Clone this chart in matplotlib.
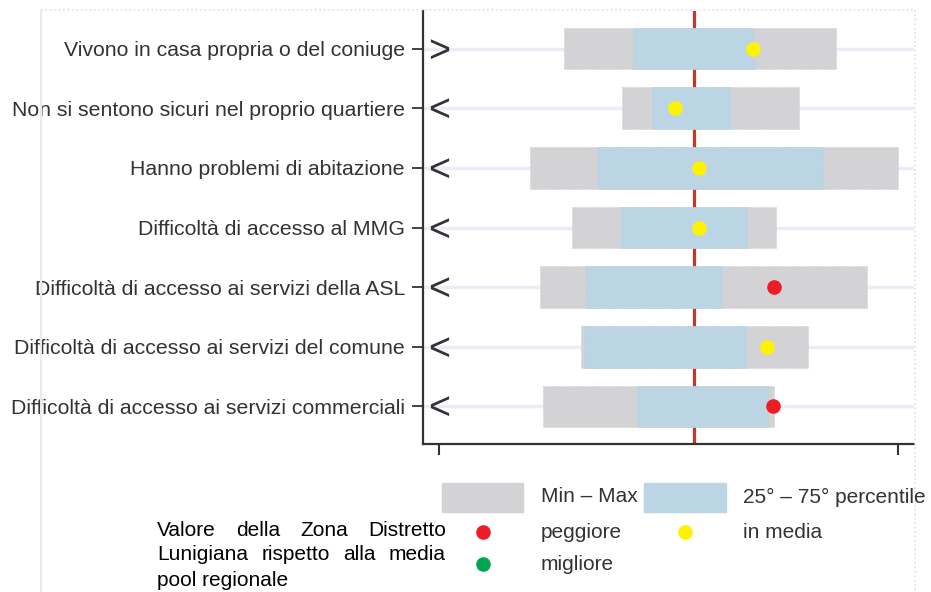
import matplotlib
matplotlib.use("Agg")
import matplotlib.pyplot as plt
from matplotlib.patches import Rectangle
from matplotlib.lines import Line2D
from matplotlib.transforms import offset_copy

# indicatori (dall'alto in basso)
labels = ["Vivono in casa propria o del coniuge",
          "Non si sentono sicuri nel proprio quartiere",
          "Hanno problemi di abitazione",
          "Difficoltà di accesso al MMG",
          "Difficoltà di accesso ai servizi della ASL",
          "Difficoltà di accesso ai servizi del comune",
          "Difficoltà di accesso ai servizi commerciali"]
signs = [">", "<", "<", "<", "<", "<", "<"]

# range regionale min - max
vmin = [27.2, 39.9, 19.8, 29.0, 22.0, 30.9, 22.7]
vmax = [86.5, 78.4, 100.0, 73.4, 93.2, 80.4, 73.0]
# 25 - 75 percentile
p25 = [42.3, 46.4, 34.6, 39.7, 32.0, 31.6, 43.1]
p75 = [68.6, 63.4, 83.7, 67.1, 61.7, 66.9, 71.7]
# valore della zona distretto e giudizio
zona = [68.4, 51.4, 56.6, 56.6, 73.0, 71.5, 72.8]
esito = ["media", "media", "media", "media", "peggiore", "media", "peggiore"]
media_regionale = 55.6

GRAY = "#d3d2d4"
BLUE = "#bcd5e4"
COL = {"peggiore": "#ee1c25", "media": "#fff200", "migliore": "#00a651"}
TXT = "#333333"

W, H = 931, 592
fig = plt.figure(figsize=(W / 100, H / 100), dpi=100)
plt.rcParams['font.family'] = ['Liberation Sans', 'DejaVu Sans']


def fx(x):
    return x / W


def fy(y):
    return 1 - y / H


# cornice esterna
fig.add_artist(Line2D([fx(41), fx(915)], [fy(10), fy(10)],
                      color="#d6e6dc", lw=1.2, ls=":"))
fig.add_artist(Line2D([fx(915), fx(915)], [fy(10), fy(600)],
                      color="#d6e6dc", lw=1.2, ls=":"))
fig.add_artist(Line2D([fx(41), fx(41)], [fy(10), fy(600)],
                      color="#e4eef2", lw=1.5))

ax = fig.add_axes([fx(423), 1 - 444 / H, (914 - 423) / W, (444 - 11) / H])
ax.set_facecolor("none")
sign_tr = offset_copy(ax.transData, fig=fig, x=0, y=-13, units="dots")

ys = list(range(len(labels)))
h = 0.70
for i in ys:
    ax.axhline(i, color="#ececf6", lw=2.5, zorder=0)
    ax.barh(i, vmax[i] - vmin[i], left=vmin[i], height=h, color=GRAY,
            edgecolor="#cbcbcd", lw=0.6, ls=":", zorder=2)
    ax.barh(i, p75[i] - p25[i], left=p25[i], height=h, color=BLUE,
            edgecolor="#aed0e2", lw=0.6, ls=":", zorder=3)
    ax.plot(zona[i], i, "o", ms=10.5, color=COL[esito[i]], mec="none", zorder=5)
    ax.text(0, i, signs[i], ha="center", va="baseline", fontsize=27,
            color=TXT, zorder=6, transform=sign_tr)

ax.axvline(media_regionale, color="#c0392b", lw=2.3, zorder=1)

ax.set_ylim(6.63, -0.63)
ax.set_xlim(-3.5, 103.5)
ax.set_yticks(ys)
ax.set_yticklabels(labels, fontsize=15.3, color=TXT)
ax.set_xticks([0, 100])
ax.set_xticklabels([])
ax.tick_params(axis="y", length=8, width=1.3, color=TXT, pad=5)
ax.tick_params(axis="x", length=8, width=1.5, color=TXT)
for s in ["top", "right"]:
    ax.spines[s].set_visible(False)
for s in ["left", "bottom"]:
    ax.spines[s].set_color(TXT)
    ax.spines[s].set_linewidth(1.6)

# legenda
fig.add_artist(Rectangle((fx(442), fy(512)), (523 - 442) / W, 29 / H,
                         color=GRAY, transform=fig.transFigure))
fig.add_artist(Rectangle((fx(644), fy(512)), (726 - 644) / W, 29 / H,
                         color=BLUE, transform=fig.transFigure))
fig.text(fx(541), fy(497), "Min – Max", fontsize=15, color=TXT, va="center")
fig.text(fx(743), fy(497), "25° – 75° percentile", fontsize=15, color=TXT,
         va="center")
for xd, yd, key, xt, name in [(483, 532, "peggiore", 541, "peggiore"),
                              (685, 532, "media", 743, "in media"),
                              (483, 564, "migliore", 541, "migliore")]:
    fig.add_artist(Line2D([fx(xd)], [fy(yd)], marker="o", ms=10.5,
                          color=COL[key], mec="none"))
    fig.text(fx(xt), fy(yd + 1), name, fontsize=15, color=TXT, va="center")

# testo giustificato a sinistra della legenda
renderer = fig.canvas.get_renderer()


def justify(words, x0, x1, y):
    texts = [fig.text(0, fy(y), w, fontsize=15, color="black", va="center")
             for w in words]
    widths = [t.get_window_extent(renderer).width for t in texts]
    gap = (x1 - x0 - sum(widths)) / (len(words) - 1)
    x = x0
    for t, wd in zip(texts, widths):
        t.set_x(fx(x))
        x += wd + gap


justify(["Valore", "della", "Zona", "Distretto"], 157, 446, 530)
justify(["Lunigiana", "rispetto", "alla", "media"], 157, 446, 555)
fig.text(fx(157), fy(580), "pool regionale", fontsize=15, color="black",
         va="center")

fig.savefig("out.png", dpi=100)
